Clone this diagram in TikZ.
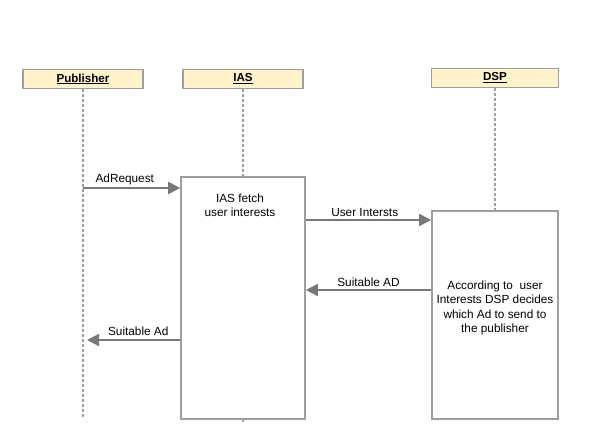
\documentclass[tikz,border=0pt]{standalone}
\usepackage{fontspec}
\setmainfont{Liberation Sans}
\usetikzlibrary{arrows.meta}
\definecolor{headfill}{HTML}{FFF2CC}
\definecolor{boxline}{HTML}{9E9E9E}
\definecolor{msgline}{HTML}{787878}
\definecolor{lifeline}{HTML}{A0A0A0}
\tikzset{
  head/.style={draw=boxline, line width=1.6pt, fill=headfill, minimum height=19pt, inner sep=0pt, font=\fontsize{11.6}{13}\selectfont\bfseries},
  actbox/.style={draw=boxline, line width=1.6pt, fill=white, inner sep=0pt},
  life/.style={draw=lifeline, line width=1.5pt, dash pattern=on 3pt off 2pt},
  msg/.style={draw=msgline, line width=1.8pt, -{Triangle[length=12pt,width=12pt]}},
  lbl/.style={font=\fontsize{11.8}{13}\selectfont, inner sep=1pt},
  txt/.style={font=\fontsize{11.8}{14.3}\selectfont, align=center, inner sep=0pt}
}
\begin{document}
\begin{tikzpicture}[x=1pt,y=-1pt]
\useasboundingbox (0,0) rectangle (590,442);
% heads
\node[head, minimum width=120pt] (pub) at (83,79) {\underline{Publisher}};
\node[head, minimum width=120pt] (ias) at (243,79) {\underline{IAS}};
\node[head, minimum width=127pt] (dsp) at (495,78) {\underline{DSP}};
% activation boxes
\node[actbox, minimum width=124pt, minimum height=242pt] (iasact) at (243,298) {};
\node[actbox, minimum width=126pt, minimum height=208pt] (dspact) at (495,315) {};
% lifelines
\coordinate (pubend) at (83,418);
\draw[life] (pub.south) -- (pubend);
\draw[life] (ias.south) -- (iasact.north);
\draw[life] (dsp.south) -- (dspact.north);
\coordinate (iastail) at (243,422);
\draw[draw=lifeline, line width=1.5pt] (iasact.south) -- (iastail);
% texts in boxes
\node[txt] (iastxt) at (240,205) {IAS fetch\\user interests};
\node[txt] (dsptxt) at (495,308) {According to\ \ user\\Interests DSP decides\\which Ad to send to\\the publisher};
% messages
\coordinate (m1) at (83,188);
\draw[msg] (m1) -- (m1 -| iasact.west) node[lbl, pos=0.43, above=1pt] (l1) {AdRequest};
\coordinate (m2) at (305,220);
\draw[msg] (m2 -| iasact.east) -- (m2 -| dspact.west) node[lbl, pos=0.47, above=1pt] (l2) {User Intersts};
\coordinate (m3) at (432,290);
\draw[msg] (m3 -| dspact.west) -- (m3 -| iasact.east) node[lbl, midway, above=1pt] (l3) {Suitable AD};
\coordinate (m4) at (180,340);
\coordinate (m4end) at (87,340);
\draw[msg] (m4 -| iasact.west) -- (m4end) node[lbl, pos=0.45, above=2pt] (l4) {Suitable Ad};
\end{tikzpicture}
\end{document}
